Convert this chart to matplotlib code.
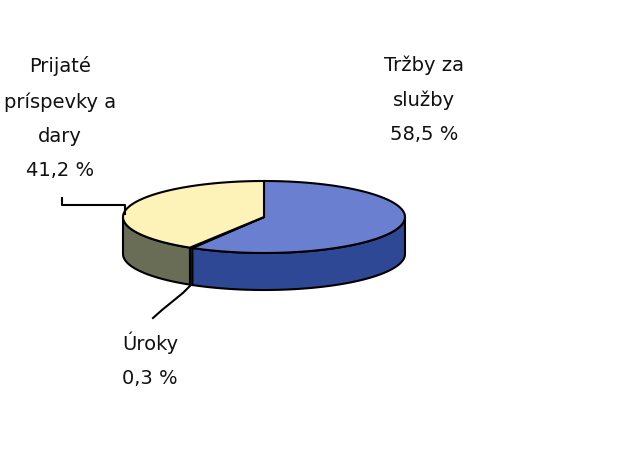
import numpy as np
import matplotlib.pyplot as plt
from matplotlib.patches import Polygon

# data (percent)
labels = ['Tržby za\nslužby', 'Úroky', 'Prijaté\npríspevky a\ndary']
values = [58.5, 0.3, 41.2]
value_text = ['58,5 %', '0,3 %', '41,2 %']

top_colors = ['#6a7fcf', '#c8f0f0', '#fdf3b8']
side_colors = ['#2f4896', '#4a6a6a', '#6a6d55']

fig = plt.figure(figsize=(6.29, 4.72), dpi=100)
ax = fig.add_axes([0, 0, 1, 1])
ax.set_xlim(0, 629)
ax.set_ylim(472, 0)
ax.axis('off')

# pie geometry in pixel units
cx, cy = 264, 217
a, b = 141, 36
depth = 37
lw = 1.5


def pt(theta, dz=0):
    t = np.radians(theta)
    return cx + a * np.cos(t), cy - b * np.sin(t) + dz


# slice angles, clockwise from 12 o'clock
bounds = []
start = 90.0
for v in values:
    end = start - v * 3.6
    bounds.append((end, start))
    start = end

# sides (only front half, 180..360 deg, is visible)
for (t0, t1), col in zip(bounds, side_colors):
    lo, hi = t0 % 360, t1 % 360
    if hi <= lo:
        hi += 360
    for base in (0, 360):
        s = max(lo, 180 + base)
        e = min(hi, 360 + base)
        if e <= s:
            continue
        th = np.linspace(s, e, 80)
        upper = [pt(t) for t in th]
        lower = [pt(t, depth) for t in th[::-1]]
        ax.add_patch(Polygon(upper + lower, closed=True, facecolor=col,
                             edgecolor='black', linewidth=lw, zorder=1))

# tops
for (t0, t1), col in zip(bounds, top_colors):
    th = np.linspace(t0, t1, 200)
    verts = [(cx, cy)] + [pt(t) for t in th]
    ax.add_patch(Polygon(verts, closed=True, facecolor=col,
                         edgecolor='black', linewidth=lw, zorder=2))

# labels
font = dict(fontsize=14, family='DejaVu Sans', color='#111111',
            ha='center', va='center', multialignment='center',
            linespacing=2.0)
ax.text(424, 100, labels[0] + '\n' + value_text[0], **font)
ax.text(150, 360, labels[1] + '\n' + value_text[1], **font)
ax.text(60, 118, labels[2] + '\n' + value_text[2], **font)

# leader lines
mid_u = (bounds[1][0] + bounds[1][1]) / 2
ux, uy = pt(mid_u, depth)
ax.plot([ux, ux - 8, 162, 153], [uy, uy + 8, 310, 318], color='black', lw=lw)
lx, ly = pt(180)
ax.plot([62, 62, lx + 2, lx + 2], [198, 205, 205, ly - 3], color='black', lw=lw)

fig.savefig('out.png', dpi=100, facecolor='white')
